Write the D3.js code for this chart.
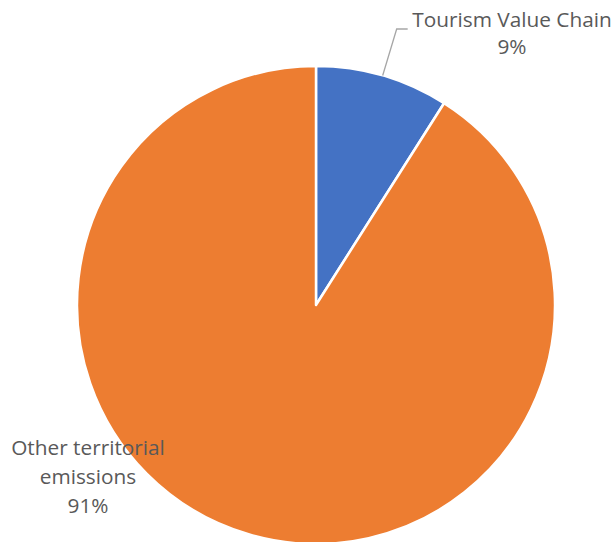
<!DOCTYPE html>
<html>
<head>
<meta charset="utf-8">
<script src="https://cdn.jsdelivr.net/npm/d3@7"></script>
<style>
  html, body { margin: 0; padding: 0; background: #fff; }
  svg { display: block; }
  text { font-family: "Open Sans", "Noto Sans", sans-serif; fill: #595959; }
</style>
</head>
<body>
<div id="chart"></div>
<script>
// Share of territorial emissions
const categories = ["Tourism Value Chain", "Other territorial emissions"];
const values = [9, 91];
const colors = ["#4472C4", "#ED7D31"];
const labelLines = [["Tourism Value Chain", "9%"], ["Other territorial", "emissions", "91%"]];

const width = 614, height = 542;
const cx = 316, cy = 305, radius = 239;

const svg = d3.select("#chart").append("svg")
  .attr("width", width).attr("height", height);

const pie = d3.pie().sort(null).value(d => d.value);
const arc = d3.arc().innerRadius(0).outerRadius(radius);

const data = categories.map((c, i) => ({ name: c, value: values[i], color: colors[i], lines: labelLines[i] }));
const arcs = pie(data);

const g = svg.append("g").attr("transform", `translate(${cx},${cy})`);

g.selectAll("path.slice")
  .data(arcs)
  .join("path")
  .attr("class", "slice")
  .attr("d", arc)
  .attr("fill", d => d.data.color)
  .attr("stroke", "#fff")
  .attr("stroke-width", 2.5)
  .attr("stroke-linejoin", "round");

// Leader line for the small slice: from its outer edge at mid-angle, up and across to the label
const small = arcs[0];
const mid = (small.startAngle + small.endAngle) / 2;
const p0 = [radius * Math.sin(mid), -radius * Math.cos(mid)];
const elbow = [p0[0] + 14, -276];
const end = [elbow[0] + 11, elbow[1]];
g.append("polyline")
  .attr("points", [p0, elbow, end].map(p => p.join(",")).join(" "))
  .attr("fill", "none")
  .attr("stroke", "#A6A6A6")
  .attr("stroke-width", 1.3);

// Labels
const fontSize = 20.8;
const labelAnchors = [
  { x: 512 - cx, y: 27 - cy, gap: 27 },
  { x: 88 - cx, y: 455 - cy, gap: 29 }
];

arcs.forEach((a, i) => {
  const t = g.append("text")
    .attr("text-anchor", "middle")
    .attr("font-size", fontSize);
  a.data.lines.forEach((line, j) => {
    t.append("tspan")
      .attr("x", labelAnchors[i].x)
      .attr("y", labelAnchors[i].y + j * labelAnchors[i].gap)
      .text(line);
  });
});
</script>
</body>
</html>
